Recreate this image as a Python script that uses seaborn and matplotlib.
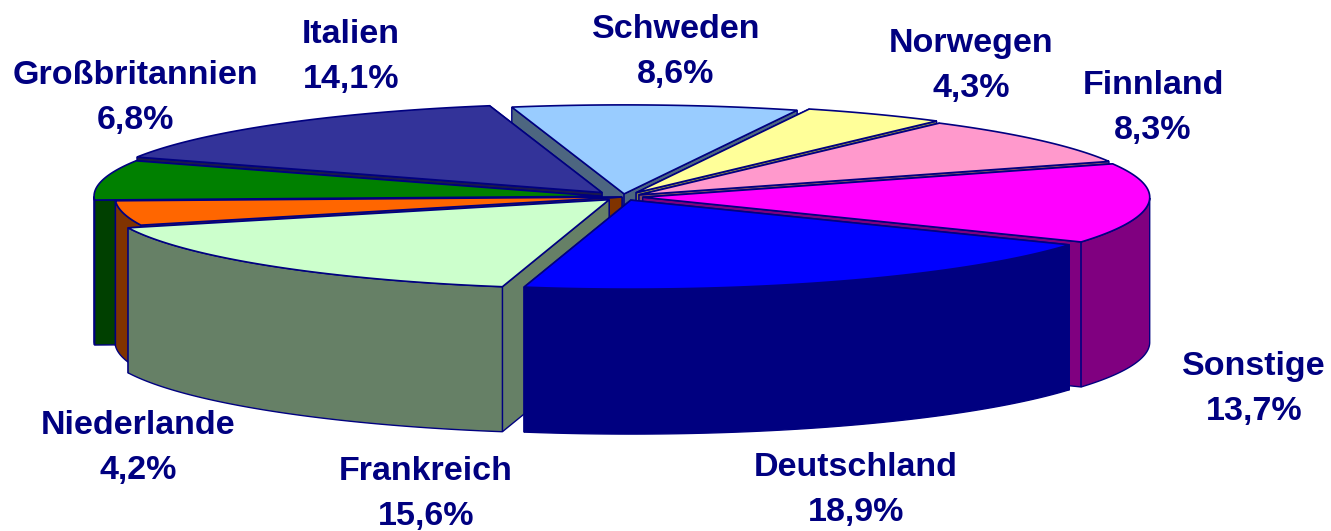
import numpy as np
import matplotlib
matplotlib.use('Agg')
import matplotlib.pyplot as plt
import seaborn as sns

# Pie data, clockwise from Schweden
countries = ['Schweden', 'Norwegen', 'Finnland', 'Sonstige', 'Deutschland',
             'Frankreich', 'Niederlande', 'Großbritannien', 'Italien']
shares = [8.6, 4.3, 8.3, 13.7, 18.9, 15.6, 4.2, 6.8, 14.1]
share_labels = ['8,6%', '4,3%', '8,3%', '13,7%', '18,9%', '15,6%', '4,2%', '6,8%', '14,1%']
slice_colors = ['#99CCFF', '#FFFF99', '#FF99CC', '#FF00FF', '#0000FF',
                '#CCFFCC', '#FF6600', '#008000', '#333399']
# how far each slice is pulled out of the pie (fraction of radius)
explode = [0.035, 0.055, 0.04, 0.039, 0.038, 0.041, 0.002, 0.044, 0.065]

# Label anchor per country (pixels, centre of the two lines)
label_x = [676, 971, 1153, 1254, 856, 426, 138, 135, 351]
label_y = [52, 66, 108, 389, 490, 494, 448, 98, 57]

# Fake 3D geometry
cx, cy = 623, 197
rx, ry = 507, 89
depth = 145
start_deg = -12.8
edge = '#000080'

sns.set_theme(style='white')
plt.rcParams['font.family'] = ['Liberation Sans', 'DejaVu Sans']


def project(u, v):
    return cx + rx * u, cy - ry * v


fig, ax = plt.subplots(figsize=(13.31, 5.31), dpi=100)
ax.set_position([0, 0, 1, 1])
ax.set_xlim(0, 1331)
ax.set_ylim(531, 0)
ax.axis('off')

palette = sns.color_palette(slice_colors)
fractions = np.array(shares) / np.sum(shares)
ends = start_deg + 360 * np.cumsum(fractions)
starts = ends - 360 * fractions
mids = np.radians((starts + ends) / 2)

# painter's order: back slices first
order = np.argsort(-np.cos(mids))

for i in order:
    color = np.array(palette[i])
    side = color * 0.5
    ou, ov = explode[i] * np.sin(mids[i]), explode[i] * np.cos(mids[i])
    th = np.radians(np.linspace(starts[i], ends[i], 80))
    x, y = project(np.sin(th) + ou, np.cos(th) + ov)
    tx, ty = project(ou, ov)

    # cut faces, the one further back first
    rims = sorted([(y[0], x[0]), (y[-1], x[-1])])
    for rim_y, rim_x in rims:
        ax.fill([tx, rim_x, rim_x, tx], [ty, rim_y, rim_y + depth, ty + depth],
                facecolor=side, edgecolor=edge, linewidth=1)

    # outer wall, front part only
    front = np.cos(th) <= 0
    if front.sum() > 1:
        ax.fill(np.r_[x[front], x[front][::-1]],
                np.r_[y[front], y[front][::-1] + depth],
                facecolor=side, edgecolor=edge, linewidth=1)

    # top
    ax.fill(np.r_[tx, x], np.r_[ty, y], facecolor=color, edgecolor=edge, linewidth=1.2)

for name, pct, lx, ly in zip(countries, share_labels, label_x, label_y):
    ax.text(lx, ly, name + '\n' + pct, ha='center', va='center', fontsize=24.5,
            fontweight='bold', color='#000080', linespacing=1.57)

fig.savefig('out.png', dpi=100)
